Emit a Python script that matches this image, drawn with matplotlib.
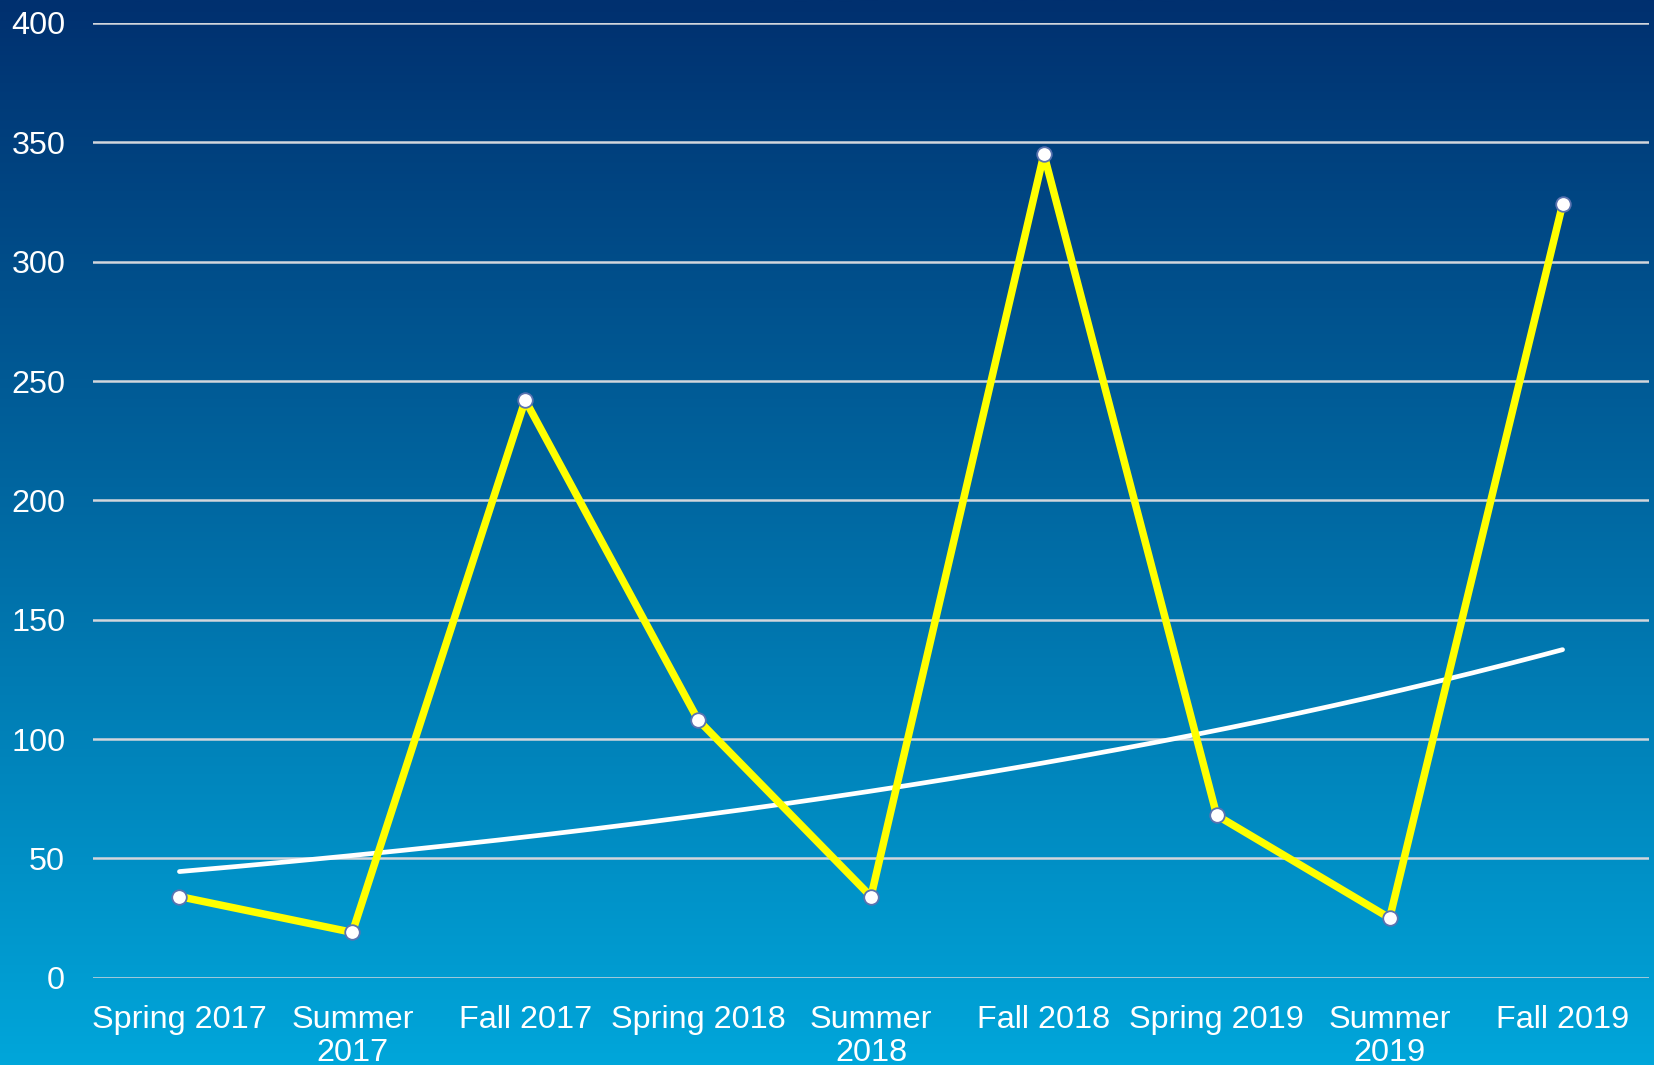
import numpy as np
import matplotlib
matplotlib.use("Agg")
import matplotlib.pyplot as plt
from matplotlib.colors import LinearSegmentedColormap

categories = ["Spring 2017", "Summer\n2017", "Fall 2017", "Spring 2018", "Summer\n2018",
              "Fall 2018", "Spring 2019", "Summer\n2019", "Fall 2019"]
values = [34, 19, 242, 108, 34, 345, 68, 25, 324]
yticks = [0, 50, 100, 150, 200, 250, 300, 350, 400]

plt.rcParams['font.family'] = ['Liberation Sans', 'DejaVu Sans']

W, H = 1654, 1065
fig = plt.figure(figsize=(W / 100, H / 100), dpi=100)

# background gradient
bg = fig.add_axes([0, 0, 1, 1], zorder=0)
grad = np.linspace(0, 1, 512).reshape(-1, 1)
cmap = LinearSegmentedColormap.from_list("bg", ["#00306f", "#00a6da"])
bg.imshow(grad, aspect="auto", cmap=cmap, extent=[0, 1, 0, 1], origin="upper")
bg.axis("off")

left = 93 / W
right = 1649 / W
bottom = 1 - 977.7 / H
top = 1 - 23 / H
ax = fig.add_axes([left, bottom, right - left, top - bottom], zorder=1)
ax.patch.set_alpha(0)

x = np.arange(len(values))
ax.set_xlim(-0.5, len(values) - 0.5)
ax.set_ylim(0, 400)
ax.set_yticks(yticks)
ax.grid(axis="y", color="#d2d6dc", linewidth=1.8, zorder=1)
ax.set_axisbelow(True)
for s in ax.spines.values():
    s.set_visible(False)

# exponential trendline
b, a = np.polyfit(x + 1, np.log(values), 1)
xs = np.linspace(0, len(values) - 1, 200)
ax.plot(xs, np.exp(a + b * (xs + 1)), color="white", linewidth=3.4, zorder=3,
        solid_capstyle="round")

ax.plot(x, values, color="#ffff00", linewidth=5.4, zorder=4,
        marker="o", markersize=10.5, markerfacecolor="white",
        markeredgecolor="#5b73b0", markeredgewidth=1.3)

ax.set_xticks(x)
ax.set_xticklabels(categories, linespacing=1.1)
ax.tick_params(axis="both", length=0, colors="white", labelsize=23.3)
ax.tick_params(axis="y", pad=20)
ax.tick_params(axis="x", pad=20)

fig.savefig("out.png", dpi=100)
